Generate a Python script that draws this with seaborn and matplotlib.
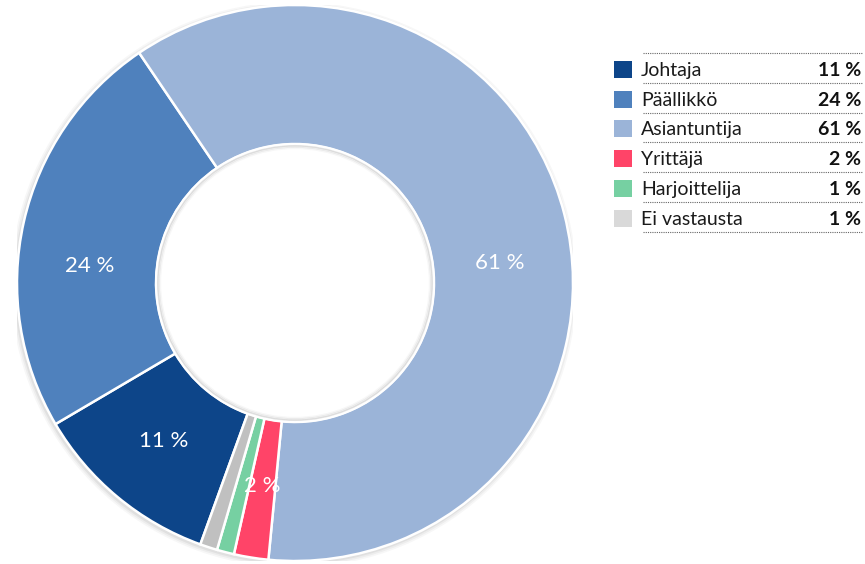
import numpy as np
import matplotlib
matplotlib.use("Agg")
import matplotlib.pyplot as plt
import seaborn as sns
from matplotlib.patches import Rectangle, Circle

sns.set_theme(style="white")
plt.rcParams['font.family'] = ['Lato', 'DejaVu Sans']

# data
categories = ['Johtaja', 'Päällikkö', 'Asiantuntija', 'Yrittäjä', 'Harjoittelija', 'Ei vastausta']
shares = [11, 24, 61, 2, 1, 1]
pie_colors = ['#0D4589', '#4F81BD', '#9BB4D8', '#FF4468', '#76D0A2', '#C0C0C0']
legend_colors = ['#0D4589', '#4F81BD', '#9BB4D8', '#FF4468', '#76D0A2', '#D9D9D9']
show_label = [True, True, True, True, False, False]

W, H = 865, 564
fig = plt.figure(figsize=(W / 100, H / 100), dpi=100)

# donut axes, centre ~ (295, 283) px, radius ~278 px
cx, cy, r = 295, 283, 278
ax = fig.add_axes([(cx - r) / W, (H - cy - r) / H, 2 * r / W, 2 * r / H])

# soft shadow under the ring (outer only)
for k, a in enumerate([0.05, 0.04, 0.03]):
    ax.add_patch(Circle((-0.004, -0.006), 1.0 + 0.006 * (k + 1), color='black',
                        alpha=a, lw=0, zorder=0))
ax.add_patch(Circle((0, 0), 0.5, color='white', lw=0, zorder=0.5))

wedges, _ = ax.pie(shares, colors=pie_colors, startangle=250.1, counterclock=False,
                   radius=1.0, wedgeprops=dict(width=0.5, edgecolor='white', linewidth=1.8))

# faint inner shadow along the hole edge
for k, a in enumerate([0.10, 0.06, 0.03]):
    ax.add_patch(Circle((0, 0), 0.5 - 0.005 * (k + 1), fill=False, edgecolor='black',
                        alpha=a, lw=1.5, zorder=5))
ax.add_patch(Circle((0, 0), 0.5, fill=False, edgecolor='white', lw=1.4, zorder=6))

ax.set_xlim(-1.0, 1.0)
ax.set_ylim(-1.0, 1.0)
ax.set_aspect('equal')
ax.axis('off')

# percentage labels inside the ring
label_shift = [0, 8, -8.6, 0, 0, 0]   # degrees moved from mid-angle (as in original)
for w, s, show, d in zip(wedges, shares, show_label, label_shift):
    if not show:
        continue
    ang = np.deg2rad((w.theta1 + w.theta2) / 2 + d)
    rr = 0.74
    ax.text(rr * np.cos(ang), rr * np.sin(ang), f'{s} %', color='white',
            ha='center', va='center', fontsize=16, zorder=10)

# legend drawn as a small table with dotted separators
lax = fig.add_axes([600 / W, 0, 265 / W, 1])
lax.set_xlim(600, 865)
lax.set_ylim(H, 0)
lax.axis('off')
row_h = 29.8
top = 53
for i, (cat, s, col) in enumerate(zip(categories, shares, legend_colors)):
    yc = top + row_h * (i + 0.55)
    lax.add_patch(Rectangle((614, yc - 8.5), 18, 17, facecolor=col, edgecolor='none'))
    lax.text(641, yc + 1, cat, ha='left', va='center', fontsize=14, color='#1a1a1a')
    lax.text(861, yc + 1, f'{s} %', ha='right', va='center', fontsize=14,
             fontweight='bold', color='#111111')
for i in range(len(categories) + 1):
    yl = top + row_h * i
    lax.plot([643, 862], [yl, yl], color='#666666', lw=0.8, ls=(0, (1, 1)))

fig.savefig('out.png', dpi=100)
